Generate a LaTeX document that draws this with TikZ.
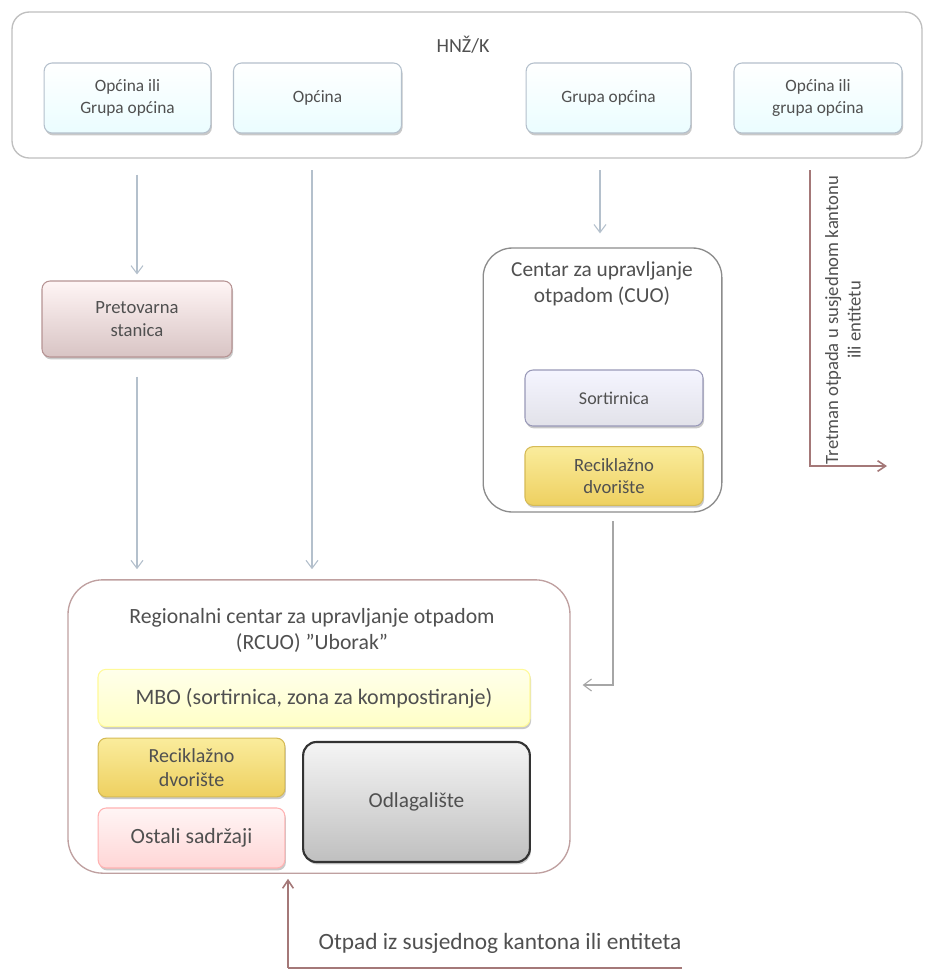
\documentclass[tikz,border=0pt]{standalone}
\usepackage{fontspec}
\setmainfont{Carlito}
\usetikzlibrary{arrows.meta,shadows,calc}
\definecolor{flowc}{HTML}{B4C0CC}
\definecolor{redc}{HTML}{A47878}
\definecolor{txt}{HTML}{505050}
\definecolor{pretb}{HTML}{D8C4C4}
\definecolor{goldt}{HTML}{FAEC9C}
\definecolor{goldb}{HTML}{EED060}
\tikzset{
  lbl/.style={font=\fontsize{13}{16}\selectfont, text=txt, align=center},
  fs/.code={\pgfmathsetmacro\fsb{#1*1.2}\pgfkeysalso{/tikz/font/.expanded={\noexpand\fontsize{#1}{\fsb}\noexpand\selectfont}}},
  box/.style={lbl, rounded corners=6pt, draw, line width=0.8pt, inner sep=0pt,
    drop shadow={shadow xshift=0.8pt, shadow yshift=-1.8pt, opacity=0.35, fill=black!60}},
  bluebox/.style={box, draw=flowc, top color=white, bottom color=blue!10!cyan!8},
  goldbox/.style={box, draw=goldb!90!black, top color=goldt, bottom color=goldb},
  container/.style={draw, line width=1pt, fill=white, inner sep=0pt},
  flow/.style={draw=flowc, line width=1pt, -{Straight Barb[length=6pt,width=9pt,line width=0.8pt]}},
  redflow/.style={draw=redc, line width=1.6pt, -{Straight Barb[length=6pt,width=8pt,line width=1.2pt]}}
}
\begin{document}
\begin{tikzpicture}[x=0.75pt,y=-0.75pt]
\useasboundingbox (0,0) rectangle (926,972);
% top container
\node[container, draw=black!25, rounded corners=13pt, minimum width=682.5pt, minimum height=109.5pt] (top) at (467,85) {};
\node[lbl, fs=15] (hnz) at (463,45) {HNŽ/K};
\node[bluebox, minimum width=125pt, minimum height=52.5pt] (b1) at (127.5,98) {Općina ili\\Grupa općina};
\node[bluebox, minimum width=126pt, minimum height=52.5pt] (b2) at (317.5,98) {Općina};
\node[bluebox, minimum width=123.5pt, minimum height=52.5pt] (b3) at (608.5,98) {Grupa općina};
\node[bluebox, minimum width=126pt, minimum height=52.5pt] (b4) at (818,98) {Općina ili\\grupa općina};

% Pretovarna
\node[box, fs=14, draw=redc!80, top color=white!96!red, bottom color=pretb, minimum width=142.5pt, minimum height=57pt] (pret) at (137,319) {Pretovarna\\stanica};

% CUO
\node[container, draw=black!45, rounded corners=22pt, minimum width=179pt, minimum height=198pt] (cuo) at (602.5,380) {};
\node[lbl, fs=16] (cuot) at (602,284) {Centar za upravljanje\\otpadom (CUO)};
\node[box, fs=13.5, draw=blue!30!black!40, top color=white!96!blue, bottom color=blue!14!gray!20, minimum width=133.5pt, minimum height=42pt] (sort) at (614,398) {Sortirnica};
\node[goldbox, fs=14, minimum width=133.5pt, minimum height=44pt] (rec1) at (614,476) {Reciklažno\\dvorište};

% RCUO
\node[container, draw=redc!70, rounded corners=26pt, minimum width=376.5pt, minimum height=220pt] (rcuo) at (319,726.5) {};
\node[lbl, fs=16.3] (rcuot) at (312,630) {Regionalni centar za upravljanje otpadom\\(RCUO) "Uborak"};
\node[box, fs=16.5, draw=yellow!40, top color=yellow!8, bottom color=yellow!22, minimum width=324pt, minimum height=43pt] (mbo) at (314,698) {MBO (sortirnica, zona za kompostiranje)};
\node[goldbox, fs=15, minimum width=140pt, minimum height=44pt] (rec2) at (191.5,767.5) {Reciklažno\\dvorište};
\node[box, fs=16.3, draw=red!30, top color=red!4, bottom color=red!16, minimum width=140pt, minimum height=45pt] (ost) at (191.5,838) {Ostali sadržaji};
\node[box, fs=16, draw=black!80, line width=1.6pt, rounded corners=10pt, top color=black!4, bottom color=black!25, minimum width=170pt, minimum height=90pt] (odl) at (416.5,802) {Odlagalište};

% connectors
\draw[flow, shorten <=12pt] (top.south -| pret) -- ($(pret.north)+(0,-6)$);
\draw[flow, shorten <=12pt] (pret.south) ++(0,3) -- ($(rcuo.north -| pret)+(0,-10)$);
\coordinate (a2) at (312,170);
\draw[flow] (a2) -- ($(rcuo.north -| a2)+(0,-10)$);
\coordinate (a3) at (600,170);
\draw[flow] (a3) -- ($(cuo.north -| a3)+(0,-14)$);
\coordinate (c1) at (613,521);
\coordinate (c2) at (613,685);
\draw[flow, draw=black!35] (c1) -- (c2) -- ($(rcuo.east |- c2)+(12,0)$);
% right red arrow
\coordinate (r1) at (810,170);
\coordinate (r2) at (810,466);
\coordinate (r3) at (887,466);
\draw[redflow] (r1) -- (r2) -- (r3);
\node[lbl, fs=14, rotate=90] (rlab) at (843,320) {Tretman otpada u susjednom kantonu\\ili entitetu};
% bottom red arrow
\coordinate (d1) at (288,968);
\coordinate (d2) at (682,968);
\draw[redflow, -] (d2) -- (d1);
\draw[redflow] (d1) -- ($(rcuo.south -| d1)+(0,5)$);
\node[lbl, fs=17.5, anchor=south] (dlab) at (500,958) {Otpad iz susjednog kantona ili entiteta};
\end{tikzpicture}
\end{document}
